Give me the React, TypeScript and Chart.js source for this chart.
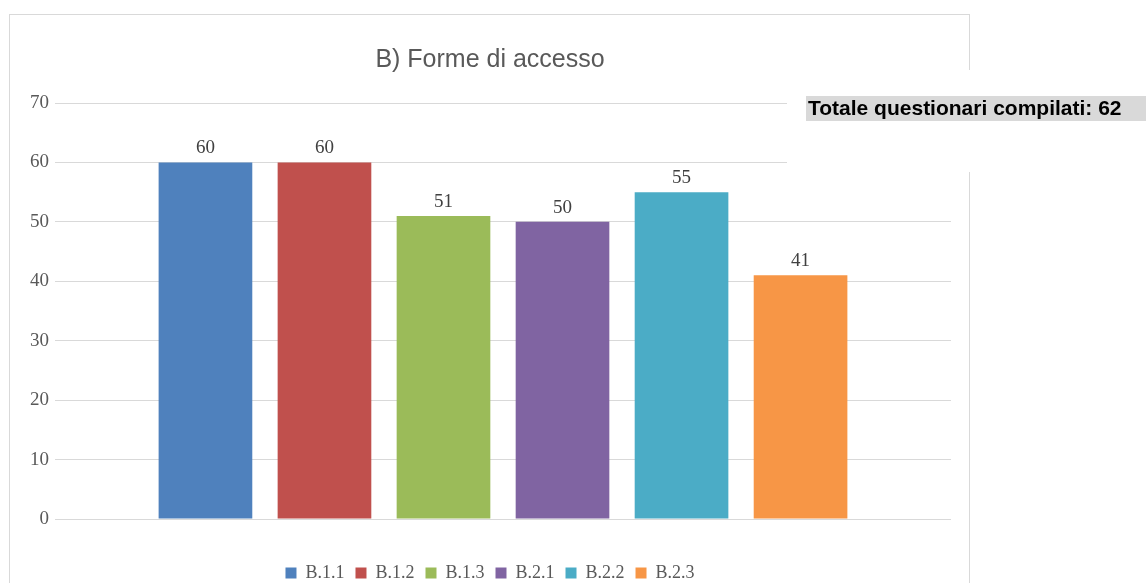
import React, { useEffect, useRef } from "react";
import { Chart, registerables } from "chart.js";

Chart.register(...registerables);

const categories = [""];
const seriesNames = ["B.1.1", "B.1.2", "B.1.3", "B.2.1", "B.2.2", "B.2.3"];
const seriesValues = [60, 60, 51, 50, 55, 41];
const seriesColors = ["#4F81BD", "#C0504D", "#9BBB59", "#8064A2", "#4BACC6", "#F79646"];
const yTicks = [0, 10, 20, 30, 40, 50, 60, 70];
const titleText = "B) Forme di accesso";
const noteText = "Totale questionari compilati: 62";

const W = 1146;
const H = 620;

const framePlugin = {
  id: "frame",
  beforeDraw(chart: any) {
    const ctx = chart.ctx;
    ctx.save();
    ctx.fillStyle = "#ffffff";
    ctx.fillRect(0, 0, chart.width, chart.height);
    ctx.strokeStyle = "#d9d9d9";
    ctx.lineWidth = 1;
    ctx.strokeRect(9.5, 14.5, 960, 700);
    ctx.restore();
  },
  afterDatasetsDraw(chart: any) {
    const ctx = chart.ctx;
    ctx.save();
    ctx.font = "19px 'Liberation Serif'";
    ctx.fillStyle = "#404040";
    ctx.textAlign = "center";
    ctx.textBaseline = "alphabetic";
    chart.data.datasets.forEach((ds: any, i: number) => {
      const meta = chart.getDatasetMeta(i);
      meta.data.forEach((el: any, j: number) => {
        ctx.fillText(String(ds.data[j]), el.x, el.y - 9);
      });
    });
    ctx.restore();
  },
  afterDraw(chart: any) {
    const ctx = chart.ctx;
    ctx.save();
    ctx.fillStyle = "#ffffff";
    ctx.fillRect(787, 70, W - 787, 102);
    ctx.fillStyle = "#d9d9d9";
    ctx.fillRect(806, 96, W - 806, 25);
    ctx.fillStyle = "#000000";
    ctx.font = "bold 21px 'Liberation Sans'";
    ctx.textAlign = "left";
    ctx.textBaseline = "middle";
    ctx.fillText(noteText, 808, 109);
    ctx.restore();
  },
};

export default function App() {
  const ref = useRef<HTMLCanvasElement>(null);
  useEffect(() => {
    if (!ref.current) return;
    const chart = new Chart(ref.current, {
      type: "bar",
      data: {
        labels: categories,
        datasets: seriesNames.map((name, i) => ({
          label: name,
          data: [seriesValues[i]],
          backgroundColor: seriesColors[i],
          borderWidth: 0,
          categoryPercentage: 0.797,
          barPercentage: 0.787,
        })),
      },
      options: {
        responsive: false,
        animation: false,
        devicePixelRatio: 1,
        layout: { padding: { left: 10, right: 176, top: 0, bottom: 28 } },
        plugins: {
          title: {
            display: true,
            text: titleText,
            color: "#595959",
            font: { family: "'Liberation Sans'", size: 25, weight: "normal" },
            padding: { top: 45, bottom: 28 },
          },
          legend: {
            display: true,
            position: "bottom",
            labels: {
              boxWidth: 11,
              boxHeight: 11,
              padding: 11,
              color: "#595959",
              font: { family: "'Liberation Serif'", size: 18 },
            },
          },
          tooltip: { enabled: false },
        },
        scales: {
          x: {
            display: true,
            grid: { display: false },
            border: { display: false },
            ticks: { display: false },
            afterFit: (s: any) => {
              s.height = 34;
            },
          },
          y: {
            position: "left",
            min: 0,
            max: 70,
            afterBuildTicks: (s: any) => {
              s.ticks = yTicks.map((v) => ({ value: v }));
            },
            ticks: {
              color: "#595959",
              padding: 6,
              font: { family: "'Liberation Serif'", size: 19 },
            },
            grid: { color: "#d9d9d9", drawTicks: false, lineWidth: 1 },
            border: { display: false },
            afterFit: (s: any) => {
              s.width = 45;
            },
          },
          y2: {
            position: "right",
            display: true,
            grid: { display: false },
            border: { display: false },
            ticks: { display: false },
            afterFit: (s: any) => {
              s.width = 19;
            },
          },
        },
      },
      plugins: [framePlugin],
    });
    return () => chart.destroy();
  }, []);
  return (
    <div style={{ position: "fixed", left: 0, top: 0, width: W, height: 583, overflow: "hidden", background: "#fff" }}>
      <canvas ref={ref} width={W} height={H} style={{ display: "block" }} />
    </div>
  );
}
